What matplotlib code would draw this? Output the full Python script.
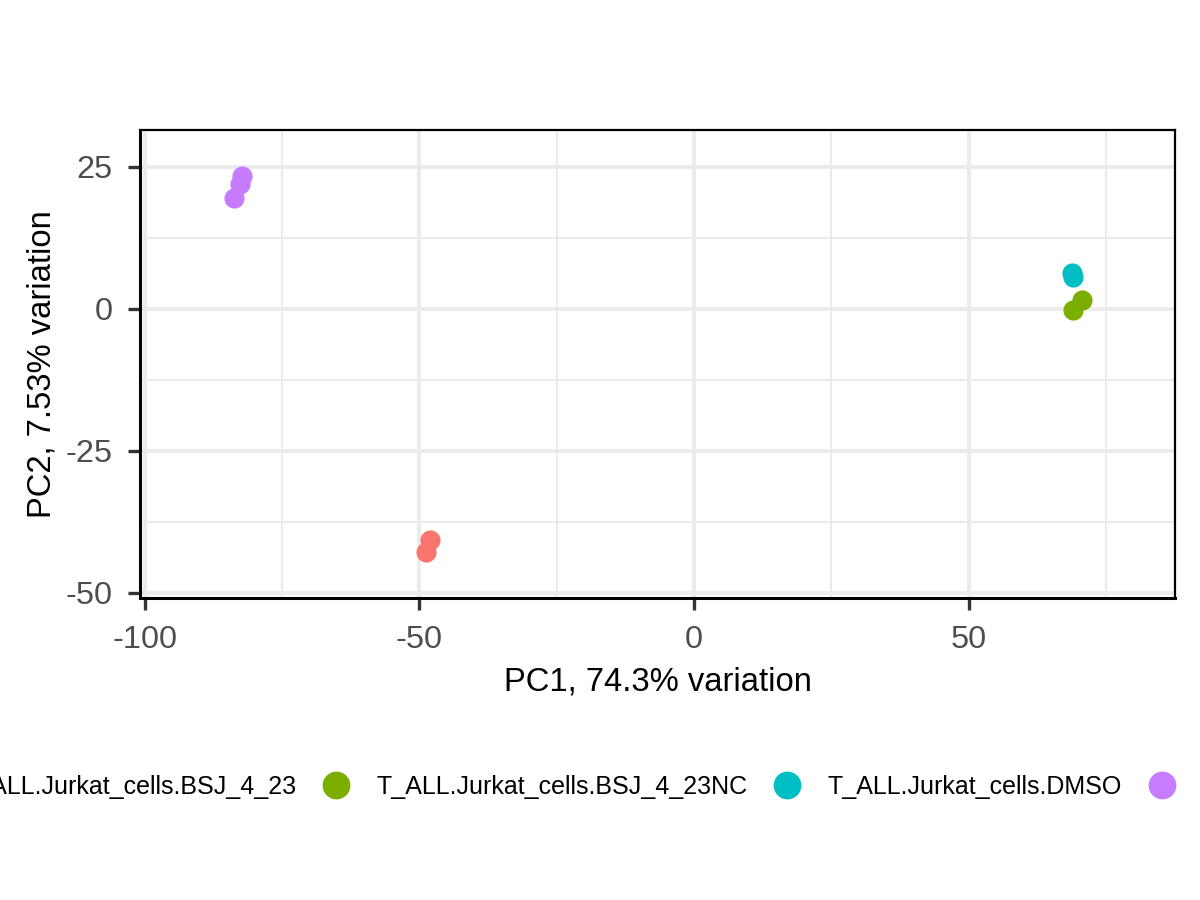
import numpy as np
import matplotlib
matplotlib.use("Agg")
import matplotlib.pyplot as plt
from matplotlib.lines import Line2D

plt.rcParams['font.family'] = ['Liberation Sans', 'DejaVu Sans']
plt.rcParams['axes.unicode_minus'] = False

# sample groups and PCA coordinates
groups = ['T_ALL.Jurkat_cells.BSJ_4_23', 'T_ALL.Jurkat_cells.BSJ_4_23NC',
          'T_ALL.Jurkat_cells.DMSO', 'T_ALL.Jurkat_cells.dBET6']
colours = ['#F8766D', '#7CAE00', '#00BFC4', '#C77CFF']

pc1 = {
    groups[0]: [-48.1, -48.8],
    groups[1]: [70.6, 69.1],
    groups[2]: [68.9, 69.0],
    groups[3]: [-82.3, -82.6, -83.7],
}
pc2 = {
    groups[0]: [-40.7, -42.8],
    groups[1]: [1.6, -0.2],
    groups[2]: [6.3, 5.6],
    groups[3]: [23.4, 22.0, 19.5],
}

xticks = [-100, -50, 0, 50]
yticks = [-50, -25, 0, 25]

fig = plt.figure(figsize=(12, 9), dpi=100)
ax = fig.add_axes([140/1200, 1-598/900, (1175-140)/1200, (598-130)/900])

for g, c in zip(groups, colours):
    ax.scatter(pc1[g], pc2[g], s=210, color=c, linewidths=0, zorder=3)

ax.set_xlim(-100.9, 87.6)
ax.set_ylim(-50.9, 31.5)
ax.set_xticks(xticks)
ax.set_yticks(yticks)
ax.set_xticks([-75, -25, 25, 75], minor=True)
ax.set_yticks([-37.5, -12.5, 12.5], minor=True)
ax.grid(which='major', color='#ebebeb', linewidth=2.8, zorder=0)
ax.grid(which='minor', color='#ebebeb', linewidth=1.4, zorder=0)
ax.set_axisbelow(True)
ax.tick_params(which='minor', length=0)
ax.tick_params(which='major', length=8.5, width=2.4, color='#333333',
               labelcolor='#4d4d4d', labelsize=23.4)
ax.tick_params(axis='x', pad=11)
ax.tick_params(axis='y', pad=11)
for sp in ax.spines.values():
    sp.set_color('black')
    sp.set_linewidth(1.6)
ax.spines['left'].set_linewidth(2.2)
ax.spines['bottom'].set_linewidth(2.2)

ax.set_xlabel('PC1, 74.3% variation', fontsize=23.6, color='black', labelpad=8)
ax.set_ylabel('PC2, 7.53% variation', fontsize=23.6, color='black', labelpad=6)

handles = [Line2D([], [], linestyle='none', marker='o', markersize=20,
                  markerfacecolor=c, markeredgewidth=0) for c in colours]
fig.legend(handles, groups, loc='center left', bbox_to_anchor=(-94/1200, 1-787/900),
           ncol=4, frameon=False, fontsize=18, handlelength=1.2, handletextpad=1.0,
           columnspacing=1.0, borderpad=0, borderaxespad=0)

fig.savefig('out.png', dpi=100)
